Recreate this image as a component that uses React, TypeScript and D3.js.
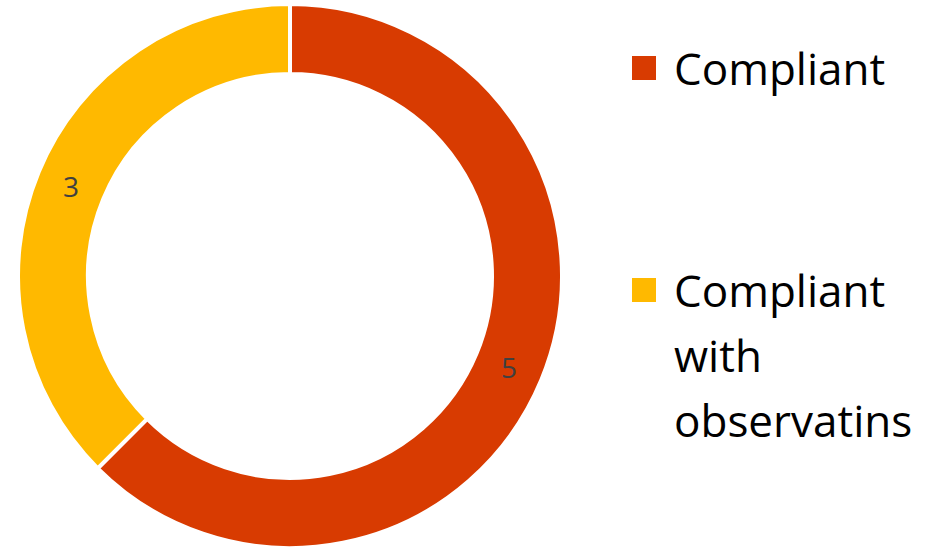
import React from "react";
import * as d3 from "d3";

const categories = ["Compliant", "Compliant with observatins"];
const values = [5, 3];
const colors = ["#D83B01", "#FFB900"];
const legendLines = [["Compliant"], ["Compliant", "with", "observatins"]];

export default function App() {
  const width = 943;
  const height = 547;
  const cx = 290;
  const cy = 276;
  const outer = 272;
  const inner = 202;
  const data = categories.map((c, i) => ({ c, v: values[i], color: colors[i] }));
  const pie = d3.pie<any>().value((d) => d.v).sort(null);
  const arcs = pie(data);
  const arc = d3.arc<any>().innerRadius(inner).outerRadius(outer);
  const font = "'Open Sans', 'Noto Sans', sans-serif";
  const legendY = [68, 290];
  return (
    <svg width={width} height={height} style={{ position: "absolute", left: 0, top: 0, background: "#fff" }}>
      <g transform={`translate(${cx},${cy})`}>
        {arcs.map((a, i) => (
          <path key={i} d={arc(a) || ""} fill={a.data.color} stroke="#fff" strokeWidth={4} />
        ))}
        {arcs.map((a, i) => {
          const [x, y] = arc.centroid(a);
          return (
            <text key={i} x={x} y={y + 2} dy="0.35em" textAnchor="middle" fontFamily={font} fontSize={28} fill="#404040">
              {a.data.v}
            </text>
          );
        })}
      </g>
      {categories.map((c, i) => (
        <g key={i}>
          <rect x={632} y={legendY[i] - 12} width={24} height={24} fill={colors[i]} />
          {legendLines[i].map((ln, j) => (
            <text key={j} x={674} y={legendY[i] + 17 + j * 65} fontFamily={font} fontSize={44} fill="#000">
              {ln}
            </text>
          ))}
        </g>
      ))}
    </svg>
  );
}
